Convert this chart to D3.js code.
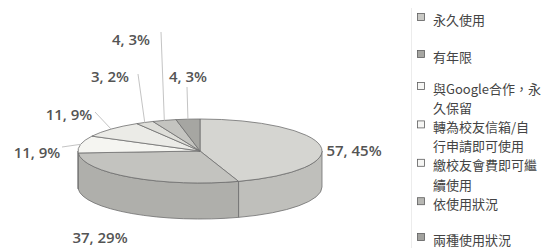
<!DOCTYPE html>
<html>
<head>
<meta charset="utf-8">
<script src="https://cdn.jsdelivr.net/npm/d3@7"></script>
<style>
  html, body { margin: 0; padding: 0; background: #fff; }
  svg { display: block; }
</style>
</head>
<body>
<div class="chart"></div>
<script>
// data
const categories = ["永久使用", "有年限", "與Google合作，永久保留", "轉為校友信箱/自行申請即可使用",
    "繳校友會費即可繼續使用", "依使用狀況", "兩種使用狀況"];
const legendLines = [["永久使用"], ["有年限"], ["與Google合作，永", "久保留"],
    ["轉為校友信箱/自", "行申請即可使用"], ["繳校友會費即可繼", "續使用"], ["依使用狀況"], ["兩種使用狀況"]];
const values = [57, 37, 11, 11, 3, 4, 4];

// styling
const topColors = ["#d5d5d1", "#c3c3bf", "#f5f5f1", "#ebebe7", "#deded9", "#c4c4c0", "#a6a6a2"];
const sideColors = ["#bfbfbb", "#afafab", "#e4e4e0", "#dadad6", "#cfcfcb", "#b4b4b0", "#979793"];
const markerColors = ["#c9c9c5", "#a6a6a2", "#f6f6f4", "#f6f6f4", "#f6f6f4", "#b7b7b3", "#a2a29e"];

// label layout: text centre and leader start
const labelLayout = [
    { x: 354, y: 150, lx: null, ly: null },
    { x: 100, y: 237, lx: null, ly: null },
    { x: 37, y: 152, lx: 62, ly: 147 },
    { x: 69, y: 114, lx: 95, ly: 112 },
    { x: 110, y: 76, lx: 138, ly: 74 },
    { x: 131, y: 39, lx: 161, ly: 32 },
    { x: 188, y: 76, lx: 187, ly: 87 }
];
// legend layout
const legendTop = [19, 56, 88, 126.4, 164.8, 203.2, 239];
const lineGap = 19.2;

const w = 554, h = 248;
const cx = 200, cy = 151, rx = 122, ry = 32, depth = 36;

const svg = d3.select(".chart")
    .append("svg")
    .attr("width", w)
    .attr("height", h);

const total = d3.sum(values);
const pie = d3.pie().sort(null).value(d => d).startAngle(0).endAngle(2 * Math.PI);
const arcs = pie(values);

const pt = (a, dy = 0) => [cx + rx * Math.sin(a), cy - ry * Math.cos(a) + dy];

// sides (only the front half is visible)
const sides = svg.append("g");
arcs.forEach((d, i) => {
    const s = Math.max(d.startAngle, Math.PI / 2);
    const e = Math.min(d.endAngle, 3 * Math.PI / 2);
    if (s >= e) return;
    const p0 = pt(s), p1 = pt(e), p2 = pt(e, depth), p3 = pt(s, depth);
    const path = `M${p0}A${rx},${ry} 0 0 1 ${p1}L${p2}A${rx},${ry} 0 0 0 ${p3}Z`;
    sides.append("path")
        .attr("d", path)
        .attr("fill", sideColors[i])
        .attr("stroke", "#6e6e6e")
        .attr("stroke-width", 0.8)
        .attr("stroke-linejoin", "round");
});

// top face
const arc = d3.arc().innerRadius(0).outerRadius(rx);
svg.append("g")
    .attr("transform", `translate(${cx},${cy}) scale(1,${ry / rx})`)
    .selectAll("path")
    .data(arcs)
    .enter()
    .append("path")
    .attr("d", arc)
    .attr("fill", (d, i) => topColors[i])
    .attr("stroke", "#6e6e6e")
    .attr("stroke-width", 0.8)
    .attr("vector-effect", "non-scaling-stroke")
    .attr("stroke-linejoin", "round");

// leader lines
arcs.forEach((d, i) => {
    const L = labelLayout[i];
    if (L.lx === null) return;
    const mid = (d.startAngle + d.endAngle) / 2;
    const p = pt(mid);
    svg.append("line")
        .attr("x1", L.lx).attr("y1", L.ly)
        .attr("x2", p[0]).attr("y2", p[1])
        .attr("stroke", "#c4c4c4")
        .attr("stroke-width", 1);
});

// data labels
svg.append("g")
    .selectAll("text")
    .data(arcs)
    .enter()
    .append("text")
    .attr("x", (d, i) => labelLayout[i].x)
    .attr("y", (d, i) => labelLayout[i].y)
    .attr("text-anchor", "middle")
    .attr("dominant-baseline", "central")
    .style("font-family", "'Open Sans', 'DejaVu Sans', sans-serif")
    .style("font-size", "15px")
    .style("font-weight", 600)
    .attr("fill", "#545454")
    .text(d => `${d.data}, ${Math.round(d.data / total * 100)}%`);

// legend
svg.append("line")
    .attr("x1", 411.5).attr("y1", 8)
    .attr("x2", 411.5).attr("y2", h)
    .attr("stroke", "#ececec");

const legend = svg.append("g");
categories.forEach((c, i) => {
    legend.append("rect")
        .attr("x", 417.5).attr("y", legendTop[i] - 2 - 3.5)
        .attr("width", 7).attr("height", 7)
        .attr("fill", markerColors[i])
        .attr("stroke", "#5e5e5e")
        .attr("stroke-width", 0.8);
    legendLines[i].forEach((line, j) => {
        legend.append("text")
            .attr("x", 433)
            .attr("y", legendTop[i] + j * lineGap)
            .attr("dominant-baseline", "central")
            .style("font-family", "'Noto Sans CJK TC', 'Noto Sans', sans-serif")
            .style("font-size", "13px")
            .attr("fill", "#444")
            .text(line);
    });
});
</script>
</body>
</html>
